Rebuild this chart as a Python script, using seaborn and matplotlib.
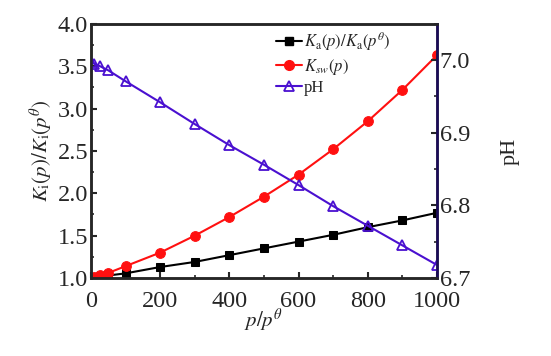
import numpy as np
import pandas as pd
import matplotlib
matplotlib.use("Agg")
import matplotlib.pyplot as plt
import seaborn as sns
from matplotlib.ticker import MultipleLocator
from matplotlib.lines import Line2D

# pressure ratio p/p^theta
pressure = [1, 10, 25, 50, 100, 200, 300, 400, 500, 600, 700, 800, 900, 1000]
# K_a(p)/K_a(p^theta)
ka_ratio = [1.0, 1.005, 1.01, 1.03, 1.055, 1.13, 1.19, 1.27, 1.35, 1.43, 1.51, 1.60, 1.68, 1.77]
# K_sw(p)
ksw = [1.0, 1.015, 1.035, 1.06, 1.14, 1.30, 1.50, 1.72, 1.96, 2.22, 2.52, 2.85, 3.22, 3.63]
# pH (right axis)
ph = [6.998, 6.995, 6.992, 6.986, 6.971, 6.942, 6.912, 6.883, 6.856, 6.828, 6.799, 6.772, 6.745, 6.718]

df = pd.DataFrame({"p": pressure, "ka": ka_ratio, "ksw": ksw, "ph": ph})

sns.set_style("ticks")
plt.rcParams["font.family"] = ["Liberation Serif", "DejaVu Serif"]
plt.rcParams["mathtext.fontset"] = "stix"

ph_color = "#4a10d0"

fig = plt.figure(figsize=(5.51, 3.56), dpi=100)
ax = fig.add_axes([0.165, 0.219, 0.628, 0.714])
ax2 = ax.twinx()

sns.lineplot(data=df, x="p", y="ka", ax=ax, color="black", marker="s",
             markersize=6, markeredgecolor="black", linewidth=1.5)
sns.lineplot(data=df, x="p", y="ksw", ax=ax, color="#ff1010", marker="o",
             markersize=7, markeredgecolor="#ff1010", linewidth=1.5)
sns.lineplot(data=df, x="p", y="ph", ax=ax2, color=ph_color, marker="^",
             markersize=7, markerfacecolor="none", markeredgecolor=ph_color,
             markeredgewidth=1.3, linewidth=1.5)

ax.set_xlim(0, 1000)
ax.set_ylim(1.0, 4.0)
ax2.set_ylim(6.7, 7.05)

ax.xaxis.set_major_locator(MultipleLocator(200))
ax.xaxis.set_minor_locator(MultipleLocator(100))
ax.yaxis.set_major_locator(MultipleLocator(0.5))
ax.yaxis.set_minor_locator(MultipleLocator(0.25))
ax2.yaxis.set_major_locator(MultipleLocator(0.1))
ax2.yaxis.set_minor_locator(MultipleLocator(0.05))
ax.yaxis.set_major_formatter(plt.FormatStrFormatter("%.1f"))
ax2.yaxis.set_major_formatter(plt.FormatStrFormatter("%.1f"))

for a in (ax, ax2):
    a.tick_params(which="major", direction="in", length=4, width=1.5, labelsize=17.5, pad=2)
    a.tick_params(which="minor", direction="in", length=2.5, width=1.2)
    for s in a.spines.values():
        s.set_linewidth(1.8)
        s.set_visible(True)
ax.tick_params(axis="x", which="major", pad=9.5)
ax.tick_params(top=False, which="both")
ax2.spines["right"].set_color("#1a0a5a")

ax.set_xlabel(r"$p/p^{\theta}$", fontsize=15, labelpad=-4)
ax.set_ylabel(r"$K_{\mathrm{i}}(p)/K_{\mathrm{i}}(p^{\theta})$", fontsize=15, labelpad=2)
ax2.set_ylabel("pH", fontsize=16, labelpad=22)

handles = [
    Line2D([], [], color="black", marker="s", markersize=6, linewidth=1.5),
    Line2D([], [], color="#ff1010", marker="o", markersize=7, linewidth=1.5),
    Line2D([], [], color=ph_color, marker="^", markersize=7, markerfacecolor="none",
           markeredgewidth=1.3, linewidth=1.5),
]
labels = [r"$K_{\mathrm{a}}(p)/K_{\mathrm{a}}(p^{\theta})$", r"$K_{sw}(p)$", "pH"]
ax.legend(handles, labels, loc="upper left", bbox_to_anchor=(0.5, 1.02), frameon=False,
          fontsize=12, handlelength=1.6, handletextpad=0.1, labelspacing=0.2,
          borderaxespad=0.3)

fig.savefig("out.png", dpi=100)
